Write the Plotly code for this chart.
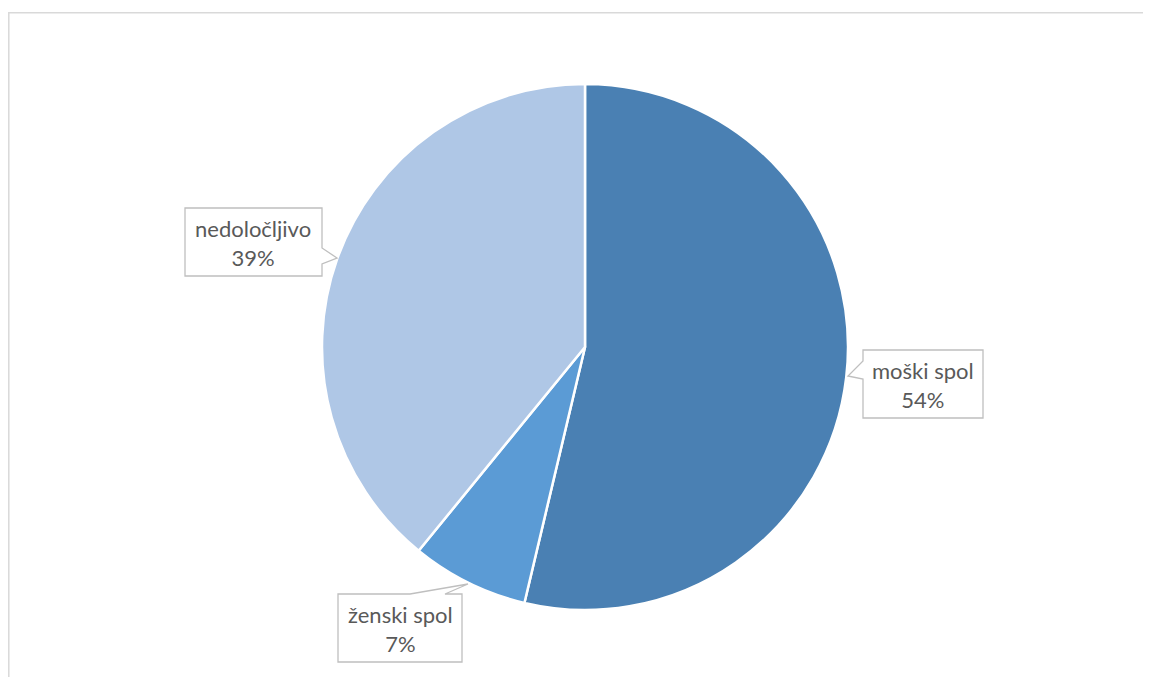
import plotly.graph_objects as go

labels = ["moški spol", "ženski spol", "nedoločljivo"]
values = [53.7, 7.2, 39.1]
colors = ["#4A80B3", "#5B9BD5", "#AFC7E6"]

OFF = 8  # page body margin compensation
W, H = 1151 - OFF, 677 - OFF

def px(x, y):
    return (x - OFF) / W, 1 - (y - OFF) / H

def path(points):
    parts = []
    for i, (x, y) in enumerate(points):
        X, Y = px(x, y)
        parts.append(("M" if i == 0 else "L") + f"{X:.5f},{Y:.5f}")
    return " ".join(parts) + " Z"

dx0, dy1 = px(322, 84)
dx1, dy0 = px(848, 610)
fig = go.Figure(go.Pie(
    labels=labels, values=values, sort=False, direction="clockwise", rotation=0,
    marker=dict(colors=colors, line=dict(color="white", width=2.5)),
    textinfo="none", hoverinfo="label+percent",
    domain=dict(x=[dx0, dx1], y=[dy0, dy1]),
    showlegend=False,
))

callouts = [
    # nedoločljivo: pointer on right
    [(185, 208), (322, 208), (322, 248), (337, 258), (322, 264), (322, 276), (185, 276)],
    # moški spol: pointer on left
    [(863, 350), (983, 350), (983, 418), (863, 418), (863, 379), (848, 376), (863, 361)],
    # ženski spol: pointer on top
    [(338, 594), (410, 594), (468, 584), (445, 594), (462, 594), (462, 662), (338, 662)],
]
fx0, fy1 = px(8.8, 12.8)
shapes = [dict(type="rect", xref="paper", yref="paper", x0=fx0, x1=1.05, y0=-0.05, y1=fy1,
               line=dict(color="#D9D9D9", width=1.5), fillcolor="rgba(0,0,0,0)", layer="below")]
for c in callouts:
    shapes.append(dict(type="path", xref="paper", yref="paper", path=path(c),
                       line=dict(color="#BFBFBF", width=1.3), fillcolor="white", layer="above"))

text_pos = [(923, 385), (400, 629), (253, 243)]
annotations = []
for lab, v, (x, y) in zip(labels, values, text_pos):
    X, Y = px(x, y)
    annotations.append(dict(xref="paper", yref="paper", x=X, y=Y, showarrow=False,
                            xanchor="center", yanchor="middle",
                            text=f"{lab}<br>{round(v)}%", align="center",
                            font=dict(family="Lato, Open Sans, sans-serif", size=22, color="#595959")))

fig.update_layout(width=W, height=H, margin=dict(l=0, r=0, t=0, b=0),
                  paper_bgcolor="white", shapes=shapes, annotations=annotations)
fig.write_html("out.html")
